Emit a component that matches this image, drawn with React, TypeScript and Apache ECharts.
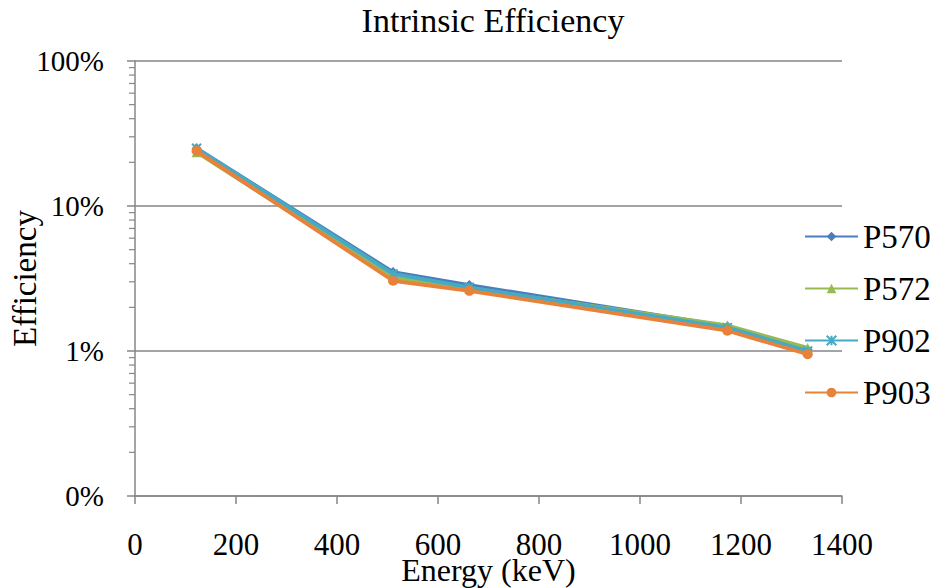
import React, { useEffect, useRef } from "react";
import * as echarts from "echarts";

const energies = [122, 511, 662, 1173, 1332];
const seriesNames = ["P570", "P572", "P902", "P903"];
const p570 = [0.25, 0.035, 0.0285, 0.0148, 0.0102];
const p572 = [0.235, 0.032, 0.027, 0.015, 0.0105];
const p902 = [0.25, 0.034, 0.0275, 0.0145, 0.01];
const p903 = [0.24, 0.0305, 0.026, 0.0138, 0.0095];
const minorTickValues = [
  0.002, 0.003, 0.004, 0.005, 0.006, 0.007, 0.008, 0.009,
  0.02, 0.03, 0.04, 0.05, 0.06, 0.07, 0.08, 0.09,
  0.2, 0.3, 0.4, 0.5, 0.6, 0.7, 0.8, 0.9,
];

const colors = ["#4A7EBB", "#98B954", "#46AAC5", "#E8823A"];
const symbols = ["diamond", "triangle", "path://M0,0L10,10M10,0L0,10M5,0L5,10", "circle"];
const FONT = "'Liberation Serif', 'Times New Roman', serif";

export default function App() {
  const ref = useRef<HTMLDivElement>(null);
  useEffect(() => {
    const chart = echarts.init(ref.current!, null, { renderer: "svg" });
    const all = [p570, p572, p902, p903];
    const lineSeries = all.map((vals, i) => ({
      name: seriesNames[i],
      type: "line",
      data: energies.map((e, j) => [e, vals[j]]),
      symbol: symbols[i],
      symbolSize: i === 2 ? 9 : 10,
      lineStyle: { color: colors[i], width: 3.8 },
      itemStyle: i === 2 ? { color: colors[i], borderColor: colors[i], borderWidth: 2 } : { color: colors[i] },
      z: 3 + i,
    }));
    chart.setOption({
      animation: false,
      backgroundColor: "#ffffff",
      textStyle: { fontFamily: FONT },
      title: {
        text: "Intrinsic Efficiency",
        left: 488,
        textAlign: "center",
        top: -2,
        textStyle: { fontFamily: FONT, fontSize: 34, fontWeight: "normal", color: "#000" },
      },
      legend: {
        orient: "vertical",
        left: 804,
        top: 220,
        padding: 0,
        itemWidth: 53,
        itemHeight: 12,
        itemGap: 19,
        data: seriesNames,
        textStyle: { fontFamily: FONT, fontSize: 33, color: "#000", lineHeight: 32, overflow: "none", width: 80 },
      },
      grid: { left: 135, right: 88, top: 61, bottom: 92, outerBoundsMode: "none", containLabel: false },
      xAxis: {
        type: "value",
        min: 0,
        max: 1400,
        interval: 200,
        name: "Energy (keV)",
        nameLocation: "middle",
        nameGap: 58,
        nameMoveOverlap: false,
        nameTextStyle: { fontFamily: FONT, fontSize: 32, color: "#000" },
        axisLine: { lineStyle: { color: "#868686", width: 1.5 } },
        axisTick: { length: 8, lineStyle: { color: "#868686", width: 1.5 } },
        axisLabel: {
          fontFamily: FONT,
          fontSize: 31,
          color: "#000",
          margin: 33,
          formatter: (v: number) => String(v),
        },
        splitLine: { show: false },
      },
      yAxis: {
        type: "log",
        logBase: 10,
        min: 0.001,
        max: 1,
        name: "Efficiency",
        nameLocation: "middle",
        nameGap: 94,
        nameMoveOverlap: false,
        nameTextStyle: { fontFamily: FONT, fontSize: 33, color: "#000" },
        axisLine: { lineStyle: { color: "#868686", width: 1.5 } },
        axisTick: { length: 8, lineStyle: { color: "#868686", width: 1.5 } },
        axisLabel: {
          fontFamily: FONT,
          fontSize: 29,
          color: "#000",
          margin: 31,
          formatter: (v: number) => Math.round(v * 100) + "%",
        },
        splitLine: { show: true, lineStyle: { color: "#868686", width: 1.5 } },
      },
      series: [
        {
          type: "custom",
          silent: true,
          data: minorTickValues.map((v) => [0, v]),
          renderItem: (params: any, api: any) => {
            const p = api.coord([0, api.value(1)]);
            return {
              type: "line",
              shape: { x1: p[0] - 6, y1: p[1], x2: p[0], y2: p[1] },
              style: { stroke: "#868686", lineWidth: 1.2 },
            };
          },
          z: 1,
        },
        ...lineSeries,
      ],
    });
    return () => chart.dispose();
  }, []);
  return (
    <div style={{ position: "fixed", left: 0, top: 0 }}>
      <div ref={ref} style={{ width: 930, height: 588 }} />
    </div>
  );
}
